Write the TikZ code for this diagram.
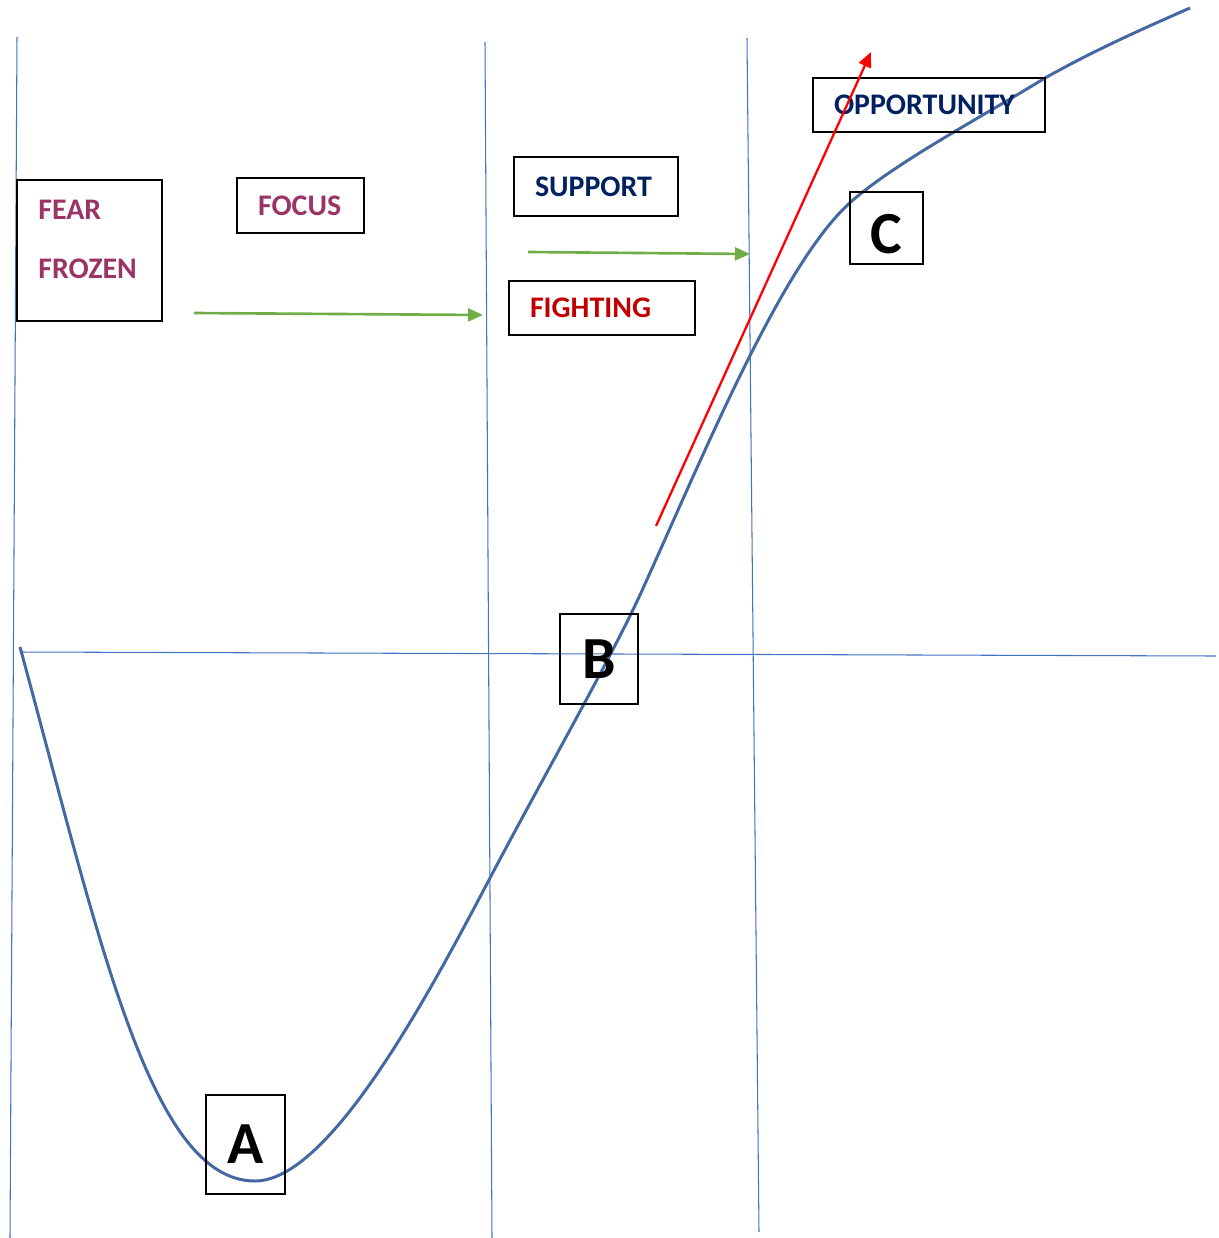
\documentclass[tikz,border=0pt]{standalone}
\usepackage{fontspec}
\setmainfont{Carlito}
\usetikzlibrary{arrows.meta}
\usetikzlibrary{positioning}
\definecolor{gridblue}{RGB}{68,114,196}
\definecolor{curveblue}{RGB}{68,104,162}
\definecolor{plum}{RGB}{155,52,102}
\definecolor{navy}{RGB}{0,32,96}
\definecolor{darkred}{RGB}{192,0,0}
\definecolor{leafgreen}{RGB}{112,173,71}
\tikzstyle{stagebox} = [rectangle, draw=black, line width=1.1pt, inner xsep=0.42cm, inner ysep=0pt, align=left, font=\fontsize{17}{20}\selectfont\bfseries]
\tikzstyle{stagetext} = [inner sep=0pt, font=\fontsize{17}{20}\selectfont\bfseries, text=plum]
\tikzstyle{pointbox} = [rectangle, draw=black, line width=1.1pt, inner sep=0pt, text centered, font=\fontsize{34}{38}\selectfont\bfseries]
\tikzstyle{grid} = [gridblue, line width=0.6pt]
\tikzstyle{push} = [leafgreen, line width=1.5pt, -{Triangle[length=0.3cm,width=0.26cm]}]

\begin{document}
\begin{tikzpicture}[x=0.02cm, y=-0.02cm]
\useasboundingbox (0,0) rectangle (1219,1238);
% grid lines
\draw[grid] (17,37) -- (10,1238);
\draw[grid] (485,42) -- (492,1238);
\draw[grid] (747,38) -- (759,1232);
\draw[grid] (20,652) -- (1216,656);

% curve
\draw[curveblue, line width=1.7pt] (20,647)
  .. controls (100,941) and (150,1181) .. (255,1181)
  .. controls (330,1181) and (430,992) .. (490,878)
  .. controls (540,783) and (610,660) .. (640,595)
  .. controls (705,452) and (783,260) .. (853,200)
  .. controls (900,160) and (980,118) .. (1045,78)
  .. controls (1095,50) and (1140,30) .. (1190,8);

% stage boxes
\node (fearbox) [rectangle, draw=black, line width=1.1pt, minimum width=2.9cm, minimum height=2.82cm] at (89.5,250.5) {};
\node (fear) [stagetext, anchor=base west] at (38,219) {FEAR};
\node (frozen) [stagetext, anchor=base west] at (38,278) {FROZEN};
\node (focus) [stagebox, text=plum, text width=1.7cm, minimum height=1.1cm] at (300.5,205.5) {FOCUS};
\node (support) [stagebox, text=navy, text width=2.44cm, minimum height=1.18cm] at (596,186.5) {SUPPORT};
\node (fighting) [stagebox, text=darkred, text width=2.88cm, minimum height=1.08cm] at (602,308) {FIGHTING};
\node (opportunity) [stagebox, text=navy, text width=3.8cm, minimum height=1.08cm] at (929,105) {OPPORTUNITY};

% points on the curve
\node (pa) [pointbox, minimum width=1.58cm, minimum height=1.98cm] at (245.5,1144.5) {A};
\node (pb) [pointbox, minimum width=1.56cm, minimum height=1.8cm] at (599,659) {B};
\node (pc) [pointbox, minimum width=1.46cm, minimum height=1.44cm, text height=1.02cm, text depth=0pt] at (886.5,228) {C};

% arrows
\coordinate (ga1) at (194,313);
\coordinate (gb1) at (483,315);
\coordinate (ga2) at (528,252);
\coordinate (gb2) at (750,254);
\coordinate (ra) at (656,526);
\coordinate (rb) at (871,52);
\draw[push] (ga1) -- (gb1);
\draw[push] (ga2) -- (gb2);
\draw[red, line width=1.3pt, -{Triangle[length=0.3cm,width=0.26cm]}] (ra) -- (rb);
\end{tikzpicture}
\end{document}
